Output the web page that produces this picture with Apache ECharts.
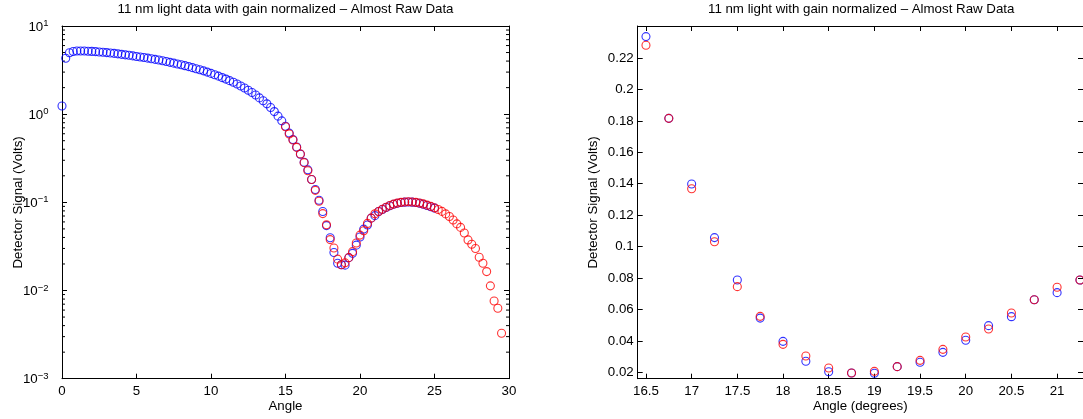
<!DOCTYPE html>
<html><head><meta charset="utf-8">
<script src="https://cdn.jsdelivr.net/npm/echarts@6/dist/echarts.min.js"></script>
<style>html,body{margin:0;padding:0;background:#fff}#c{width:1083px;height:419px}</style>
</head><body><div id="c"></div>
<script>
// ---- data ----
const blueAngle = [0,0.25,0.5,0.75,1,1.25,1.5,1.75,2,2.25,2.5,2.75,3,3.25,3.5,3.75,4,4.25,4.5,4.75,5,5.25,5.5,5.75,6,6.25,6.5,6.75,7,7.25,7.5,7.75,8,8.25,8.5,8.75,9,9.25,9.5,9.75,10,10.25,10.5,10.75,11,11.25,11.5,11.75,12,12.25,12.5,12.75,13,13.25,13.5,13.75,14,14.25,14.5,14.75,15,15.25,15.5,15.75,16,16.25,16.5,16.75,17,17.25,17.5,17.75,18,18.25,18.5,18.75,19,19.25,19.5,19.75,20,20.25,20.5,20.75,21,21.25,21.5,21.75,22,22.25,22.5,22.75,23,23.25,23.5,23.75,24,24.25,24.5,24.75,25];
const blueSignal = [1.24,4.30,4.98,5.14,5.20,5.21,5.20,5.18,5.15,5.12,5.08,5.04,4.99,4.94,4.89,4.83,4.77,4.71,4.65,4.58,4.51,4.45,4.39,4.32,4.25,4.18,4.11,4.03,3.95,3.87,3.79,3.71,3.63,3.55,3.46,3.37,3.28,3.19,3.10,3.00,2.90,2.80,2.70,2.60,2.50,2.40,2.30,2.20,2.09,1.98,1.87,1.76,1.65,1.53,1.42,1.31,1.19,1.07,0.95,0.84,0.73,0.61,0.515,0.425,0.352,0.285,0.2336,0.1816,0.1398,0.1057,0.0787,0.0545,0.0397,0.0270,0.0204,0.0196,0.0194,0.0236,0.0264,0.0327,0.0404,0.0497,0.0554,0.0662,0.0707,0.0787,0.0830,0.0875,0.0915,0.0950,0.0975,0.0995,0.1005,0.1010,0.1005,0.0995,0.0975,0.0950,0.0920,0.0890,0.0860];
const redAngle = [15,15.25,15.5,15.75,16,16.25,16.5,16.75,17,17.25,17.5,17.75,18,18.25,18.5,18.75,19,19.25,19.5,19.75,20,20.25,20.5,20.75,21,21.25,21.5,21.75,22,22.25,22.5,22.75,23,23.25,23.5,23.75,24,24.25,24.5,24.75,25,25.25,25.5,25.75,26,26.25,26.5,26.75,27,27.25,27.5,27.75,28,28.25,28.5,28.75,29,29.25,29.5];
const redSignal = [0.72,0.597,0.51,0.42,0.354,0.282,0.2281,0.1816,0.1368,0.1031,0.0745,0.0556,0.0378,0.0304,0.0227,0.0196,0.0206,0.0236,0.0276,0.0346,0.0425,0.0476,0.0577,0.0662,0.0741,0.0787,0.0835,0.0880,0.0920,0.0955,0.0980,0.1000,0.1010,0.1015,0.1010,0.1000,0.0985,0.0960,0.0930,0.0900,0.0870,0.0830,0.0790,0.0740,0.0690,0.0630,0.0570,0.0520,0.0450,0.0375,0.0335,0.0300,0.0238,0.0204,0.0164,0.0113,0.0076,0.0063,0.00328];

const titles = ['11 nm light data with gain normalized \u2013 Almost Raw Data', '11 nm light with gain normalized \u2013 Almost Raw Data'];
const xNames = ['Angle', 'Angle (degrees)'];
const yName = 'Detector Signal (Volts)';
const zoomXTicks = [16.5,17,17.5,18,18.5,19,19.5,20,20.5,21];
const zoomYTicks = [0.02,0.04,0.06,0.08,0.1,0.12,0.14,0.16,0.18,0.2,0.22];
const logMinorMantissa = [2,3,4,5,6,7,8,9];
const logDecades = [-3,-2,-1,0];

// ---- layout ----
const FONT = '"Liberation Sans", Arial, Helvetica, sans-serif';
const FS = 13.3;
const G0 = {left: 62, top: 26, width: 447, height: 352.7};
const G1 = {left: 637.7, top: 26, width: 447, height: 352.7};
const LEFT_X = [0, 30];
const LEFT_Y = [0.001, 10];
const RIGHT_X = [16.4095, 21.2835];
const RIGHT_Y = [0.01593, 0.24036];

const blueData = blueAngle.map((a, i) => [a, blueSignal[i]]);
const redData = redAngle.map((a, i) => [a, redSignal[i]]);
const minorData = [];
logDecades.forEach(d => logMinorMantissa.forEach(m => minorData.push([LEFT_X[0], m * Math.pow(10, d)])));

const lineStyle = {color: '#000', width: 1};
const txt = {color: '#000', fontFamily: FONT, fontSize: FS};

function xAx(grid, pos, range, opts) {
  return Object.assign({
    gridIndex: grid, type: 'value', position: pos, min: range[0], max: range[1],
    axisLine: {show: true, onZero: false, lineStyle},
    axisTick: {show: true, inside: true, length: 5, lineStyle},
    splitLine: {show: false},
    axisLabel: Object.assign({show: pos === 'bottom', margin: 6}, txt),
    nameTextStyle: txt, nameMoveOverlap: false
  }, opts || {});
}
function yAx(grid, pos, type, range, opts) {
  return Object.assign({
    gridIndex: grid, type: type, position: pos, min: range[0], max: range[1],
    axisLine: {show: true, onZero: false, lineStyle},
    axisTick: {show: true, inside: true, length: 5, lineStyle},
    splitLine: {show: false},
    axisLabel: Object.assign({show: pos === 'left', margin: 4}, txt),
    nameTextStyle: txt, nameMoveOverlap: false
  }, opts || {});
}

const logLabel = {
  show: true, margin: 13.5,
  formatter: v => '{b|10}{s|' + String(Math.round(Math.log10(v))).replace('-', '\u2212') + '}',
  rich: {
    b: {fontSize: FS, fontFamily: FONT, color: '#000', lineHeight: 15, verticalAlign: 'bottom'},
    s: {fontSize: 9.5, fontFamily: FONT, color: '#000', lineHeight: 10, verticalAlign: 'top'}
  }
};

const sym = (c) => ({type: 'scatter', symbol: 'circle', symbolSize: 8, silent: true,
  itemStyle: {color: 'rgba(0,0,0,0)', borderColor: c, borderWidth: 1.1}, emphasis: {disabled: true}});

const option = {
  animation: false,
  backgroundColor: '#fff',
  title: [
    {text: titles[0], left: G0.left + G0.width / 2, top: 3, textAlign: 'center', padding: 0,
     textStyle: Object.assign({fontWeight: 'normal'}, txt)},
    {text: titles[1], left: G1.left + G1.width / 2, top: 3, textAlign: 'center', padding: 0,
     textStyle: Object.assign({fontWeight: 'normal'}, txt)}
  ],
  grid: [G0, G1],
  xAxis: [
    xAx(0, 'bottom', LEFT_X, {interval: 5, name: xNames[0], nameLocation: 'middle', nameGap: 21}),
    xAx(0, 'top', LEFT_X, {interval: 5}),
    xAx(1, 'bottom', RIGHT_X, {name: xNames[1], nameLocation: 'middle', nameGap: 21,
      axisTick: {show: true, inside: true, length: 5, lineStyle, customValues: zoomXTicks},
      axisLabel: Object.assign({show: true, margin: 6, customValues: zoomXTicks}, txt)}),
    xAx(1, 'top', RIGHT_X, {
      axisTick: {show: true, inside: true, length: 5, lineStyle, customValues: zoomXTicks},
      axisLabel: {show: false, customValues: zoomXTicks}})
  ],
  yAxis: [
    yAx(0, 'left', 'log', LEFT_Y, {logBase: 10, axisLabel: logLabel, name: yName, nameLocation: 'middle', nameGap: 37}),
    yAx(0, 'right', 'log', LEFT_Y, {logBase: 10}),
    yAx(1, 'left', 'value', RIGHT_Y, {name: yName, nameLocation: 'middle', nameGap: 38,
      axisTick: {show: true, inside: true, length: 5, lineStyle, customValues: zoomYTicks},
      axisLabel: Object.assign({show: true, margin: 4, customValues: zoomYTicks}, txt)}),
    yAx(1, 'right', 'value', RIGHT_Y, {
      axisTick: {show: true, inside: true, length: 5, lineStyle, customValues: zoomYTicks},
      axisLabel: {show: false, customValues: zoomYTicks}})
  ],
  series: [
    Object.assign(sym('#0000ff'), {xAxisIndex: 0, yAxisIndex: 0, data: blueData}),
    Object.assign(sym('#ff0000'), {xAxisIndex: 0, yAxisIndex: 0, data: redData}),
    Object.assign(sym('#0000ff'), {xAxisIndex: 2, yAxisIndex: 2, data: blueData, clip: true}),
    Object.assign(sym('#ff0000'), {xAxisIndex: 2, yAxisIndex: 2, data: redData, clip: true}),
    {
      type: 'custom', xAxisIndex: 0, yAxisIndex: 0, silent: true, data: minorData, clip: false,
      renderItem: function (params, api) {
        const v = api.value(1);
        const a = api.coord([LEFT_X[0], v]);
        const b = api.coord([LEFT_X[1], v]);
        return {type: 'group', children: [
          {type: 'line', shape: {x1: a[0], y1: a[1], x2: a[0] + 3, y2: a[1]}, style: {stroke: '#000', lineWidth: 1}},
          {type: 'line', shape: {x1: b[0] - 3, y1: b[1], x2: b[0], y2: b[1]}, style: {stroke: '#000', lineWidth: 1}}
        ]};
      }
    }
  ]
};
const chart = echarts.init(document.getElementById('c'), null, {renderer: 'canvas'});
chart.setOption(option);
</script></body></html>
